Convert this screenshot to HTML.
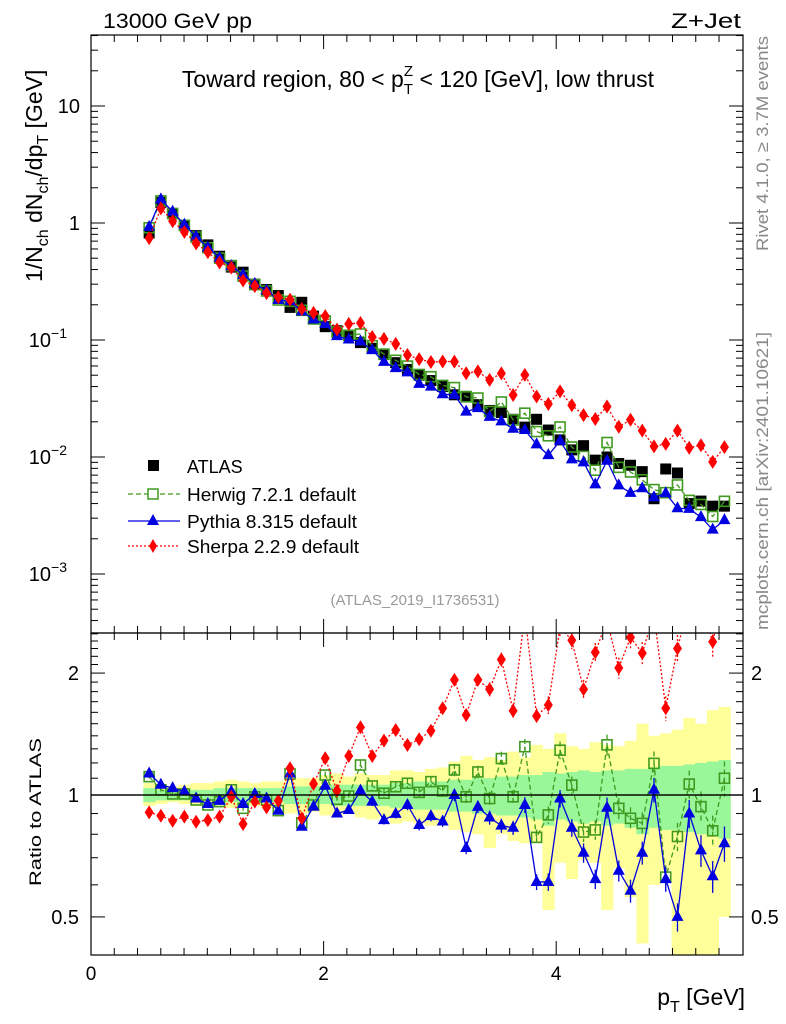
<!DOCTYPE html>
<html><head><meta charset="utf-8">
<style>
html,body{margin:0;padding:0;background:#fff;}
svg{display:block;font-family:"Liberation Sans",Arial,sans-serif;}
</style></head>
<body>
<svg id="chart" width="786" height="1024" viewBox="0 0 786 1024">
  <defs>
    <clipPath id="clipMain"><rect x="91" y="35" width="652" height="598"/></clipPath>
    <clipPath id="clipRatio"><rect x="91" y="633" width="652" height="322"/></clipPath>
  </defs>
  <g id="bands" clip-path="url(#clipRatio)"></g>
  <g id="ratioMarks" clip-path="url(#clipRatio)"></g>
  <g id="mainMarks" clip-path="url(#clipMain)"></g>
  <g id="axes"></g>
  <rect x="91" y="35" width="652" height="598" fill="none" stroke="#000" stroke-width="1.2"/>
  <rect x="91" y="633" width="652" height="322" fill="none" stroke="#000" stroke-width="1.2"/>
  <line x1="91" x2="743" y1="795" y2="795" stroke="#000" stroke-width="1.2"/>

  <text x="103" y="28" font-size="21" textLength="149" lengthAdjust="spacingAndGlyphs">13000 GeV pp</text>
  <text x="671" y="28" font-size="21" textLength="70" lengthAdjust="spacingAndGlyphs">Z+Jet</text>
  <text x="418" y="87" font-size="23" text-anchor="middle">Toward region, 80 &lt; p<tspan font-size="15" dy="7">T</tspan><tspan font-size="15" dx="-9" dy="-18">Z</tspan><tspan dy="11"> &lt; 120 [GeV], low thrust</tspan></text>
  <text transform="translate(42,282) rotate(-90)" font-size="23">1/N<tspan font-size="16" dy="6">ch</tspan><tspan dy="-6"> dN</tspan><tspan font-size="16" dy="6">ch</tspan><tspan dy="-6">/dp</tspan><tspan font-size="16" dy="6">T</tspan><tspan dy="-6"> [GeV]</tspan></text>
  <text transform="translate(41,886) rotate(-90)" font-size="17" textLength="148" lengthAdjust="spacingAndGlyphs">Ratio to ATLAS</text>
  <text transform="translate(768,251) rotate(-90)" font-size="17" fill="#888" textLength="215" lengthAdjust="spacingAndGlyphs">Rivet 4.1.0, ≥ 3.7M events</text>
  <text transform="translate(768,630) rotate(-90)" font-size="17" fill="#888" textLength="298" lengthAdjust="spacingAndGlyphs">mcplots.cern.ch [arXiv:2401.10621]</text>
  <text x="415" y="605" font-size="15" fill="#999" text-anchor="middle">(ATLAS_2019_I1736531)</text>
  <text x="745" y="1005" font-size="23" text-anchor="end">p<tspan font-size="16" dy="7">T</tspan><tspan dy="-7"> [GeV]</tspan></text>

  <g id="legend">
    <g>
      <rect x="148" y="460" width="11" height="11" fill="#000"/>
      <text x="187" y="473" font-size="18">ATLAS</text>
    </g>
    <g>
      <line x1="128" x2="180" y1="494" y2="494" stroke="#3f9a1f" stroke-dasharray="5,3" stroke-width="1.3"/>
      <rect x="148" y="489" width="10" height="10" fill="#fff" stroke="#3f9a1f" stroke-width="1.5"/>
      <text x="187" y="501" font-size="18" textLength="169" lengthAdjust="spacingAndGlyphs">Herwig 7.2.1 default</text>
    </g>
    <g>
      <line x1="128" x2="180" y1="521" y2="521" stroke="#0000e0" stroke-width="1.3"/>
      <polygon points="153,514 159,525 147,525" fill="#0000e0"/>
      <text x="187" y="528" font-size="18" textLength="170" lengthAdjust="spacingAndGlyphs">Pythia 8.315 default</text>
    </g>
    <g>
      <line x1="128" x2="180" y1="546" y2="546" stroke="#f00" stroke-dasharray="2,2" stroke-width="1.3"/>
      <polygon points="153,539 157,546 153,553 149,546" fill="#f00"/>
      <text x="187" y="553" font-size="18" textLength="172" lengthAdjust="spacingAndGlyphs">Sherpa 2.2.9 default</text>
    </g>
  </g>
</svg>
<script>
// ---- data ----
const binCenters = [0.5,0.6,0.7,0.8,0.9,1.0,1.1,1.2,1.3,1.4,1.5,1.6,1.7,1.8,1.9,2.0,2.1,2.2,2.3,2.4,2.5,2.6,2.7,2.8,2.9,3.0,3.1,3.2,3.3,3.4,3.5,3.6,3.7,3.8,3.9,4.0,4.1,4.2,4.3,4.4,4.5,4.6,4.7,4.8,4.9,5.0,5.1,5.2,5.3,5.4];
const atlasValues = [0.82,1.5,1.2,0.95,0.78,0.65,0.52,0.42,0.38,0.30,0.27,0.24,0.19,0.21,0.16,0.13,0.12,0.11,0.095,0.085,0.075,0.064,0.056,0.05,0.045,0.04,0.034,0.033,0.028,0.025,0.024,0.021,0.018,0.021,0.017,0.014,0.0115,0.0125,0.0094,0.010,0.0088,0.0085,0.0075,0.0044,0.0079,0.0073,0.0040,0.0042,0.0038,0.0038];
const herwigRatio = [1.11,1.03,1.006,1.006,0.972,0.945,0.963,1.03,0.927,0.99,0.972,0.915,1.127,0.854,0.945,1.12,0.976,0.994,1.186,1.053,1.01,1.048,1.069,1.015,1.079,1.023,1.153,0.99,1.14,0.98,1.23,0.99,1.316,0.786,0.893,1.29,1.058,0.81,0.82,1.33,0.927,0.876,0.851,1.197,0.627,0.79,1.064,0.936,0.816,1.1];
const pythiaRatio = [1.13,1.06,1.04,1.02,0.98,0.95,0.967,1.02,0.95,1.006,0.98,0.915,1.13,0.835,0.936,1.054,0.90,0.918,1.025,0.963,0.867,0.898,0.945,0.843,0.887,0.86,1.0,0.74,0.935,0.88,0.84,0.83,0.945,0.61,0.61,0.98,0.83,0.72,0.62,0.93,0.65,0.58,0.72,1.03,0.62,0.50,0.90,0.73,0.63,0.76];
const sherpaRatio = [0.906,0.889,0.864,0.884,0.859,0.867,0.884,0.99,0.848,0.963,0.932,0.968,1.164,0.876,1.065,1.232,1.025,1.248,1.47,1.248,1.362,1.447,1.329,1.373,1.441,1.637,1.924,1.576,1.924,1.824,2.16,1.615,2.8,1.567,1.668,2.6,2.41,1.824,2.25,2.7,2.06,2.45,2.24,2.8,1.637,2.3,3.0,3.0,2.39,3.2];
const mcRelErr = [0.01,0.01,0.01,0.01,0.01,0.01,0.01,0.01,0.015,0.015,0.015,0.015,0.02,0.02,0.02,0.02,0.02,0.02,0.025,0.025,0.025,0.025,0.03,0.03,0.03,0.03,0.035,0.035,0.035,0.04,0.04,0.04,0.045,0.045,0.05,0.05,0.05,0.055,0.055,0.06,0.06,0.065,0.065,0.07,0.07,0.08,0.08,0.09,0.09,0.1];
const yellowHi = [1.07,1.05,1.05,1.06,1.07,1.07,1.08,1.09,1.08,1.07,1.08,1.08,1.11,1.10,1.10,1.12,1.13,1.11,1.13,1.12,1.12,1.15,1.15,1.14,1.16,1.17,1.21,1.25,1.22,1.24,1.22,1.28,1.24,1.33,1.30,1.42,1.32,1.30,1.35,1.33,1.32,1.36,1.50,1.40,1.42,1.45,1.55,1.50,1.62,1.65];
const yellowLo = [0.94,0.95,0.96,0.95,0.94,0.94,0.94,0.93,0.94,0.94,0.93,0.93,0.90,0.90,0.91,0.89,0.89,0.90,0.88,0.87,0.88,0.85,0.86,0.85,0.84,0.84,0.82,0.81,0.80,0.74,0.80,0.77,0.76,0.76,0.52,0.68,0.62,0.69,0.68,0.52,0.66,0.56,0.43,0.60,0.65,0.38,0.36,0.38,0.38,0.50];
const greenHi = [1.04,1.03,1.03,1.03,1.03,1.03,1.04,1.04,1.04,1.04,1.04,1.04,1.05,1.05,1.05,1.05,1.06,1.06,1.06,1.06,1.06,1.07,1.07,1.08,1.08,1.08,1.09,1.09,1.10,1.10,1.11,1.11,1.12,1.12,1.14,1.13,1.14,1.15,1.14,1.15,1.15,1.16,1.16,1.17,1.18,1.18,1.19,1.20,1.21,1.22];
const greenLo = [0.96,0.97,0.97,0.97,0.97,0.97,0.96,0.96,0.96,0.96,0.96,0.96,0.95,0.95,0.95,0.95,0.94,0.94,0.94,0.94,0.94,0.93,0.93,0.92,0.92,0.92,0.91,0.91,0.90,0.90,0.89,0.89,0.88,0.87,0.84,0.87,0.86,0.85,0.86,0.84,0.85,0.83,0.80,0.83,0.82,0.82,0.81,0.80,0.79,0.78];
const xTickValues = [0,2,4];
const mainTickExps = [1,0,-1,-2,-3];
const ratioTickValues = [2,1,0.5];

// ---- axes ----
const NS = 'http://www.w3.org/2000/svg';
const X0 = 91, X1 = 743;
const xScale = x => 91 + 116.3 * x;
const xBin = i => xScale(binCenters[i] + (binCenters[i] - 0.5) * 0.0095);
const yMain = v => 223 - 117 * Math.log10(v);
const yRatio = r => 795 - 405 * Math.log10(r);
const binHalf = 5.85;

function mk(tag, attrs, parent) {
  const e = document.createElementNS(NS, tag);
  for (const k in attrs) e.setAttribute(k, attrs[k]);
  parent.appendChild(e);
  return e;
}
const axes = document.getElementById('axes');
const bands = document.getElementById('bands');
const ratioMarks = document.getElementById('ratioMarks');
const mainMarks = document.getElementById('mainMarks');

// x ticks
for (let v = 0; v <= 5.6; v += 0.2) {
  const x = xScale(v);
  if (x > X1) break;
  const major = Math.abs(v / 2 - Math.round(v / 2)) < 1e-6;
  const L = major ? 14 : 7;
  for (const [yb, dir] of [[633, -1], [35, 1], [955, -1], [633, 1]]) {
    const t = mk('line', {x1: x, x2: x, y1: yb, y2: yb + dir * L, stroke: '#000', 'stroke-width': 1}, axes);
    
    
  }
}
xTickValues.forEach(v => {
  const t = mk('text', {x: xScale(v), y: 980, 'font-size': 19, 'text-anchor': 'middle'}, axes);
  t.textContent = v;
  
  
});

// main y ticks
for (let e = -4; e <= 1; e++) {
  for (let m = 1; m <= 9; m++) {
    const v = m * Math.pow(10, e);
    const y = yMain(v);
    if (y < 35 || y > 633) continue;
    const L = m === 1 ? 14 : 7;
    const a = mk('line', {x1: X0, x2: X0 + L, y1: y, y2: y, stroke: '#000'}, axes);
    
    
    const b = mk('line', {x1: X1, x2: X1 - L, y1: y, y2: y, stroke: '#000'}, axes);
    
    
  }
}
mainTickExps.forEach(e => {
  const y = yMain(Math.pow(10, e));
  const t = mk('text', {x: 80, y: y + 7, 'font-size': 20, 'text-anchor': 'end'}, axes);
  if (e === 1) t.textContent = '10';
  else if (e === 0) t.textContent = '1';
  else {
    t.setAttribute('x', 67);
    t.textContent = '10';
    const s = mk('tspan', {'font-size': 14, dy: -9}, t);
    s.textContent = '\u2212' + (-e);
  }
  
  
});

// ratio y ticks
for (let v = 0.4; v <= 2.5001; v += 0.1) {
  const y = yRatio(v);
  if (y < 633 || y > 955) continue;
  const major = [0.5, 1, 2].some(m => Math.abs(m - v) < 1e-6);
  const L = major ? 14 : 7;
  const a = mk('line', {x1: X0, x2: X0 + L, y1: y, y2: y, stroke: '#000'}, axes);
  
  
  const b = mk('line', {x1: X1, x2: X1 - L, y1: y, y2: y, stroke: '#000'}, axes);
  
  
}
ratioTickValues.forEach(v => {
  const y = yRatio(v) + 7;
  const l = mk('text', {x: 79, y: y, 'font-size': 20, 'text-anchor': 'end'}, axes);
  l.textContent = v;
  
  
  const r = mk('text', {x: 751, y: y, 'font-size': 20}, axes);
  r.textContent = v;
  
  
});

// ---- bands ----
binCenters.forEach((c, i) => {
  const x = xBin(i) - binHalf;
  const y1 = mk('rect', {x: x, width: binHalf * 2 + 0.5, y: yRatio(yellowHi[i]), height: yRatio(yellowLo[i]) - yRatio(yellowHi[i]), fill: '#ffff99'}, bands);
  
  
});
binCenters.forEach((c, i) => {
  const x = xBin(i) - binHalf;
  const g = mk('rect', {x: x, width: binHalf * 2 + 0.5, y: yRatio(greenHi[i]), height: yRatio(greenLo[i]) - yRatio(greenHi[i]), fill: '#99f799'}, bands);
  
  
});
mk('line', {x1: X0, x2: X1, y1: 795, y2: 795, stroke: '#000', 'stroke-width': 1.2}, bands);

// ---- series drawing ----
const series = [
  {name: 'herwig', ratio: herwigRatio, color: '#3f9a1f', dash: '5,3', marker: 'square-open'},
  {name: 'pythia', ratio: pythiaRatio, color: '#0000e0', dash: '', marker: 'triangle'},
  {name: 'sherpa', ratio: sherpaRatio, color: '#ff0000', dash: '2,2', marker: 'diamond'}
];

function marker(type, x, y, color, parent, name) {
  let e;
  if (type === 'square-open') e = mk('rect', {x: x - 5, y: y - 5, width: 10, height: 10, fill: 'none', stroke: color, 'stroke-width': 1.6}, parent);
  else if (type === 'square') e = mk('rect', {x: x - 5.5, y: y - 5.5, width: 11, height: 11, fill: color}, parent);
  else if (type === 'triangle') e = mk('polygon', {points: `${x},${y-7} ${x+6},${y+4} ${x-6},${y+4}`, fill: color}, parent);
  else e = mk('polygon', {points: `${x},${y-7} ${x+4.5},${y} ${x},${y+7} ${x-4.5},${y}`, fill: color}, parent);
  
  
}

function drawSeries(parent, vals, yf, s, errs) {
  const pts = vals.map((v, i) => `${xBin(i)},${yf(v)}`).join(' ');
  const line = mk('polyline', {points: pts, fill: 'none', stroke: s.color, 'stroke-width': 1.3}, parent);
  if (s.dash) line.setAttribute('stroke-dasharray', s.dash);
  
  
  vals.forEach((v, i) => {
    if (errs) {
      const e = mk('line', {x1: xBin(i), x2: xBin(i), y1: yf(v * (1 + errs[i])), y2: yf(v * (1 - errs[i])), stroke: s.color, 'stroke-width': 1.3}, parent);
      if (s.dash) e.setAttribute('stroke-dasharray', s.dash);
      
      
    }
    marker(s.marker, xBin(i), yf(v), s.color, parent, s.name + '-point');
  });
}

// ratio panel
series.forEach(s => drawSeries(ratioMarks, s.ratio, yRatio, s, mcRelErr));

// main panel: ATLAS first, then MC = ATLAS * ratio
atlasValues.forEach((v, i) => marker('square', xBin(i), yMain(v), '#000', mainMarks, 'atlas-point'));
series.forEach(s => {
  const vals = atlasValues.map((a, i) => a * s.ratio[i]);
  drawSeries(mainMarks, vals, yMain, s, null);
});
</script>
</body></html>
